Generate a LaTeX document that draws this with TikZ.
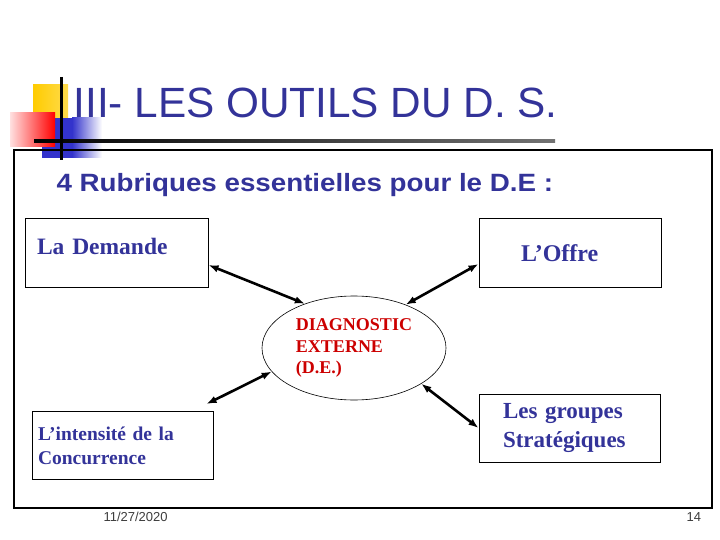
\documentclass[tikz,border=0pt]{standalone}
\usepackage{fontspec}
\setmainfont{Liberation Serif}
\newfontfamily\arialfont{Liberation Sans}
\newfontfamily\subtitlefont[FakeStretch=1.11]{Liberation Sans}
\usetikzlibrary{shapes.geometric,arrows.meta}
\definecolor{titleblue}{RGB}{51,51,153}
\definecolor{diagred}{RGB}{204,0,0}
\definecolor{decoyellow}{RGB}{255,204,0}
\definecolor{decoblue}{RGB}{51,51,204}
\definecolor{decored}{RGB}{255,0,0}
\definecolor{footgray}{RGB}{60,60,60}
\tikzset{
  rubrique/.style={draw, line width=1pt, rectangle, align=left, text=titleblue, minimum height=68pt},
  diagnostic/.style={draw, ellipse, line width=0.6pt, align=left, text=diagred,
    minimum width=184pt, minimum height=104pt, inner sep=0pt,
    font=\fontsize{18}{21.5}\selectfont\bfseries},
  link/.style={{Latex[length=10pt,width=7.5pt]}-{Latex[length=10pt,width=7.5pt]}, line width=2.6pt},
}
\begin{document}
\begin{tikzpicture}[x=1pt,y=-1pt]
  \useasboundingbox (0,0) rectangle (720,540);

  \shade[left color=decoyellow, right color=decoyellow!70] (33,85) rectangle (68,118);
  \fill[decoblue] (42,118) rectangle (72,158);
  \shade[left color=decoblue, right color=white] (72,118) rectangle (102,158);
  \shade[left color=decored!12, right color=decored] (10,113) rectangle (55,147);
  \shade[left color=black, right color=black!55] (34,139.5) rectangle (555,142.5);
  \draw[line width=3pt] (61,77) -- (61,160);

  \node[anchor=base west, text=titleblue, font=\arialfont\fontsize{42.3}{43}\selectfont]
    (title) at (70,118) {III- LES OUTILS DU D. S.};

  \draw[line width=1.2pt] (14,150) rectangle (712,508);

  \node[anchor=base west, text=titleblue, font=\subtitlefont\fontsize{25}{25}\selectfont\bfseries]
    (rubriques) at (53,192) {4 Rubriques essentielles pour le D.E :};

  \node[rubrique, inner xsep=12pt, text width=159pt, text depth=14pt,
    font=\fontsize{23.5}{26}\selectfont\bfseries] (demande) at (116.5,253) {La Demande};
  \node[rubrique, inner xsep=42pt, text width=98pt,
    font=\fontsize{24}{26}\selectfont\bfseries] (offre) at (570,253) {L’Offre};
  \node[diagnostic] (de) at (354,348) {DIAGNOSTIC\\EXTERNE\\(D.E.)};
  \node[rubrique, inner xsep=6pt, text width=169pt,
    font=\fontsize{19.5}{24}\selectfont\bfseries] (intensite) at (122.5,445.5) {L’intensité de la\\Concurrence};
  \node[rubrique, inner xsep=24pt, text width=133pt,
    font=\fontsize{23}{29}\selectfont\bfseries] (groupes) at (569.5,428) {Les groupes\\Stratégiques};

  \draw[link] ([yshift=-12pt]demande.east) -- (de.138);
  \draw[link] ([yshift=-11pt]offre.west) -- (de.40);
  \draw[link] ([xshift=-7pt,yshift=7pt]intensite.north east) -- (de.196);
  \draw[link] (groupes.west) -- (de.332);

  \node[anchor=base west, text=footgray, font=\arialfont\fontsize{13}{13}\selectfont]
    (date) at (100,521) {11/27/2020};
  \node[anchor=base west, text=footgray, font=\arialfont\fontsize{13}{13}\selectfont]
    (page) at (683,521) {14};
\end{tikzpicture}
\end{document}
